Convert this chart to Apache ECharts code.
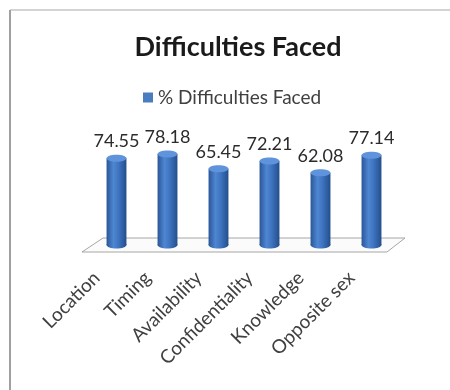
<!DOCTYPE html>
<html>
<head>
<meta charset="utf-8">
<script src="https://cdn.jsdelivr.net/npm/echarts@6/dist/echarts.min.js"></script>
<style>
html,body{margin:0;padding:0;background:#fff;}
#chart{width:450px;height:390px;}
</style>
</head>
<body>
<div id="chart"></div>
<script>
const categories = ['Location', 'Timing', 'Availability', 'Confidentiality', 'Knowledge', 'Opposite sex'];
const seriesName = '% Difficulties Faced';
const values = [74.55, 78.18, 65.45, 72.21, 62.08, 77.14];
const titleText = 'Difficulties Faced';

const FONT = 'Lato, "Open Sans", sans-serif';
const chart = echarts.init(document.getElementById('chart'), null, {renderer: 'canvas'});

const bodyGrad = new echarts.graphic.LinearGradient(0, 0, 1, 0, [
  {offset: 0, color: '#2a5698'},
  {offset: 0.35, color: '#4f86d2'},
  {offset: 0.6, color: '#3e74c0'},
  {offset: 1, color: '#244e8c'}
]);

function renderCylinder(params, api) {
  const top = api.coord([api.value(0), api.value(1)]);
  const base = api.coord([api.value(0), 0]);
  const w = api.size([1, 0])[0] * 0.39;
  const ry = 3.5;
  return {
    type: 'group',
    children: [
      {type: 'ellipse', shape: {cx: top[0], cy: base[1], rx: w / 2, ry: ry}, style: {fill: bodyGrad}},
      {type: 'rect', shape: {x: top[0] - w / 2, y: top[1], width: w, height: base[1] - top[1]}, style: {fill: bodyGrad}},
      {
        type: 'ellipse',
        shape: {cx: top[0], cy: top[1], rx: w / 2, ry: ry},
        style: {fill: '#5f93dc'},
        textContent: {
          style: {text: api.value(1).toFixed(2), fill: '#2b2b2b', fontSize: 18, fontFamily: FONT}
        },
        textConfig: {position: 'top', distance: 4}
      }
    ]
  };
}

function renderFloor(params, api) {
  const cs = params.coordSys;
  const baseY = api.coord([0, 0])[1];
  const gx = cs.x, gw = cs.width;
  return {
    type: 'polygon',
    shape: {points: [
      [gx + 12, baseY - 7], [gx + gw + 8, baseY - 7],
      [gx + gw - 10, baseY + 7], [gx - 9, baseY + 7]
    ]},
    style: {fill: '#fbfbfb', stroke: '#a6a6a6', lineWidth: 1}
  };
}

chart.setOption({
  backgroundColor: '#ffffff',
  animation: false,
  title: {
    text: titleText,
    left: 233,
    textAlign: 'center',
    top: 29,
    textStyle: {fontFamily: FONT, fontSize: 27, fontWeight: 'bold', color: '#1a1a1a'}
  },
  legend: {
    data: [{name: seriesName, icon: 'rect', itemStyle: {color: '#4a7cc0'}}],
    left: 138,
    top: 83,
    itemWidth: 10,
    itemHeight: 10,
    itemGap: 5,
    textStyle: {fontFamily: FONT, fontSize: 19, color: '#404040', padding: [0, 0, 0, 0]}
  },
  graphic: [
    {type: 'line', shape: {x1: 10, y1: 10, x2: 450, y2: 10}, style: {stroke: '#d4d4d4', lineWidth: 2}},
    {type: 'line', shape: {x1: 10, y1: 10, x2: 10, y2: 390}, style: {stroke: '#a0a0a0', lineWidth: 2}}
  ],
  grid: {left: 91, right: 53, top: 128.5, bottom: 145},
  xAxis: {
    type: 'category',
    data: categories,
    axisLine: {show: false},
    axisTick: {show: false},
    axisLabel: {
      interval: 0,
      rotate: 45,
      margin: 10,
      padding: [0, 28, 0, 0],
      fontFamily: FONT,
      fontSize: 19,
      color: '#404040'
    }
  },
  yAxis: {
    type: 'value',
    min: 0,
    max: 100,
    show: false,
    splitLine: {show: false}
  },
  series: [
    {
      type: 'custom',
      name: 'floor',
      data: [0],
      renderItem: renderFloor,
      z: 1,
      silent: true
    },
    {
      type: 'custom',
      name: seriesName,
      data: values.map((v, i) => [i, v]),
      encode: {x: 0, y: 1},
      renderItem: renderCylinder,
      itemStyle: {color: '#4a7cc0'},
      z: 2
    }
  ]
});
</script>
</body>
</html>
